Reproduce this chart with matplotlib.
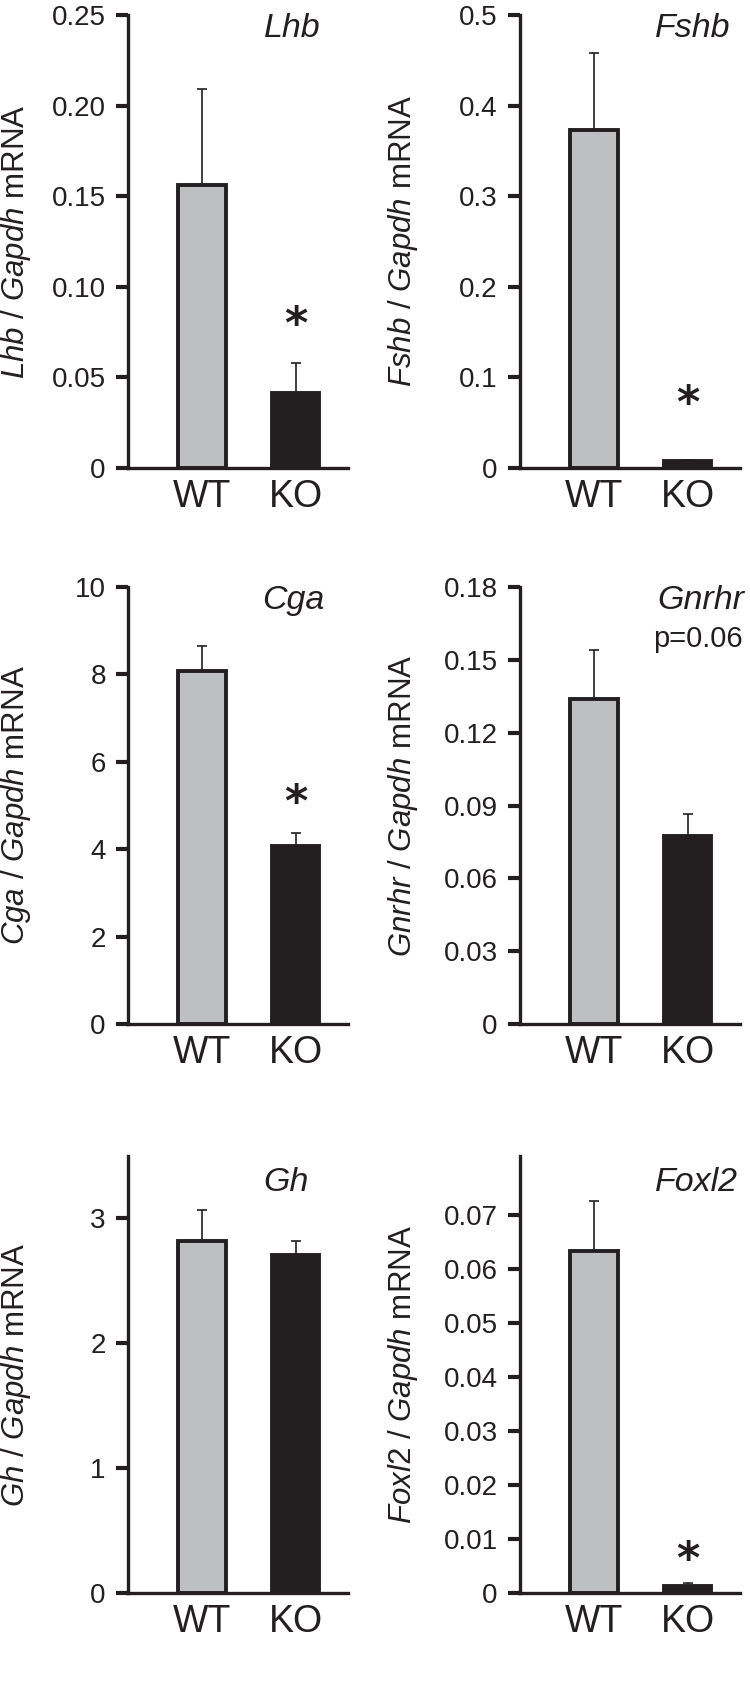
import numpy as np
import matplotlib
matplotlib.use("Agg")
import matplotlib.pyplot as plt

plt.rcParams['font.family'] = ['Liberation Sans', 'DejaVu Sans']
plt.rcParams['mathtext.fontset'] = 'custom'
plt.rcParams['mathtext.rm'] = 'Liberation Sans'
plt.rcParams['mathtext.it'] = 'Liberation Sans:italic'

# Werte
genes = ['Lhb', 'Fshb', 'Cga', 'Gnrhr', 'Gh', 'Foxl2']
groups = ['WT', 'KO']
wt_mean = [0.156, 0.373, 8.08, 0.134, 2.82, 0.0633]
wt_err = [0.053, 0.085, 0.57, 0.020, 0.25, 0.0093]
ko_mean = [0.0414, 0.008, 4.07, 0.0773, 2.71, 0.0013]
ko_err = [0.0166, 0.001, 0.30, 0.0092, 0.11, 0.0006]
signif = ['*', '*', '*', '', '', '*']
notes = ['', '', '', 'p=0.06', '', '']
y_top = [0.25, 0.5, 10, 0.18, 3.5, 0.081]
y_ticks = [
    [0, 0.05, 0.10, 0.15, 0.20, 0.25],
    [0, 0.1, 0.2, 0.3, 0.4, 0.5],
    [0, 2, 4, 6, 8, 10],
    [0, 0.03, 0.06, 0.09, 0.12, 0.15, 0.18],
    [0, 1, 2, 3],
    [0, 0.01, 0.02, 0.03, 0.04, 0.05, 0.06, 0.07],
]
y_ticklabels = [
    ['0', '0.05', '0.10', '0.15', '0.20', '0.25'],
    ['0', '0.1', '0.2', '0.3', '0.4', '0.5'],
    ['0', '2', '4', '6', '8', '10'],
    ['0', '0.03', '0.06', '0.09', '0.12', '0.15', '0.18'],
    ['0', '1', '2', '3'],
    ['0', '0.01', '0.02', '0.03', '0.04', '0.05', '0.06', '0.07'],
]

DARK = '#231f20'
GREY = '#bdbfc1'
W, H = 750, 1703

# Layout in Pixeln: (links, oben, unten) je Panel
col_left = [128, 520]
row_px = [(15, 468), (587, 1024), (1156, 1593)]
ax_w = 220
title_pos = [(0.745, 0.97), (0.786, 0.97), (0.75, 0.97), (0.82, 0.97), (0.72, 0.94), (0.80, 0.94)]
star_off = [27, 40, 21, 0, 0, 16]
label_x = [-0.43, -0.455]

fig = plt.figure(figsize=(W / 100, H / 100), dpi=100)

for i, gene in enumerate(genes):
    r, c = divmod(i, 2)
    top, bot = row_px[r]
    ax = fig.add_axes([col_left[c] / W, 1 - bot / H, ax_w / W, (bot - top) / H])

    x = np.array([1, 2])
    means = [wt_mean[i], ko_mean[i]]
    errs = [wt_err[i], ko_err[i]]
    ax.errorbar(x, means, yerr=[[0, 0], errs], fmt='none', ecolor=DARK,
                elinewidth=1.2, capsize=3.5, capthick=1.2, zorder=1)
    ax.bar(x, means, width=0.51, color=[GREY, DARK], edgecolor=DARK,
           linewidth=2.8, zorder=2)

    ax.set_xlim(0.21, 2.56)
    ax.set_ylim(0, y_top[i])
    ax.set_yticks(y_ticks[i])
    ax.set_yticklabels(y_ticklabels[i])
    ax.set_xticks(x)
    ax.set_xticklabels(groups, fontsize=27, color=DARK)

    for s in ['top', 'right']:
        ax.spines[s].set_visible(False)
    for s in ['left', 'bottom']:
        ax.spines[s].set_linewidth(2.4)
        ax.spines[s].set_color(DARK)
    ax.tick_params(axis='y', length=9, width=3, color=DARK, pad=7,
                   labelsize=20, labelcolor=DARK)
    ax.tick_params(axis='x', length=0, pad=8)

    ax.set_ylabel(r'$\mathit{%s}$ / $\mathit{Gapdh}$ mRNA' % gene,
                  fontsize=22.5, color=DARK)
    ax.yaxis.set_label_coords(label_x[c], 0.5)

    tx, ty = title_pos[i]
    ax.text(tx, ty, gene, transform=ax.transAxes, fontsize=24.5, style='italic',
            ha='center', va='center', color=DARK)
    if notes[i]:
        ax.text(tx - 0.01, ty - 0.09, notes[i], transform=ax.transAxes,
                fontsize=21, ha='center', va='center', color=DARK)
    if signif[i]:
        ax.annotate(signif[i], (2, ko_mean[i] + ko_err[i]), xytext=(0, star_off[i]),
                    textcoords='offset points', ha='center', va='center',
                    fontsize=32, fontweight='bold', color=DARK, family='DejaVu Sans')

fig.savefig('out.png', dpi=100)
